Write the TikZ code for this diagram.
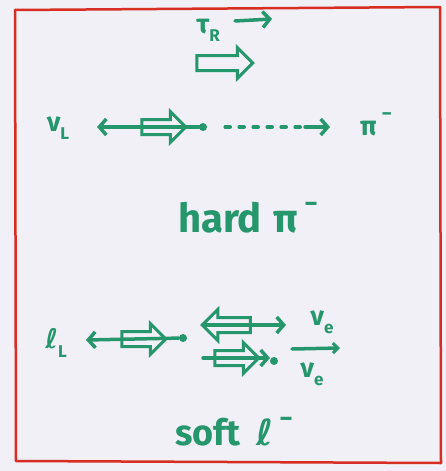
\documentclass[tikz,border=0pt]{standalone}
\usepackage{fontspec}
\setmainfont{Fira Sans}
\newfontfamily\symfont{DejaVu Sans}
\usetikzlibrary{shapes.arrows,arrows.meta}
\definecolor{ink}{RGB}{38,150,108}
\definecolor{frame}{RGB}{215,45,35}
\definecolor{paper}{RGB}{240,240,246}
\newcommand{\lo}[1]{\raisebox{-0.3em}{\fontsize{17}{19}\selectfont #1}}
\newcommand{\hi}[1]{\hspace{5pt}\raisebox{0.55em}{\fontsize{20}{22}\selectfont #1}}
\newcommand{\bighi}[1]{\hspace{6pt}\raisebox{0.5em}{\fontsize{26}{28}\selectfont #1}}
\newcommand{\ellc}{{\symfont\bfseries ℓ}}
\tikzset{
  pen/.style={draw=ink, line width=3.5pt, line cap=round, line join=round},
  hollow/.style={single arrow, draw=ink, line width=3pt, inner xsep=0pt, inner ysep=6pt,
     single arrow head extend=8pt, single arrow head indent=0pt},
  tip/.style={-{Straight Barb[length=7pt,width=16pt,line width=3.5pt]}},
  dotnode/.style={circle, fill=ink, inner sep=0pt, minimum size=8pt},
  lbl/.style={text=ink, inner sep=1pt, font=\fontsize{27}{30}\selectfont\bfseries},
  big/.style={text=ink, font=\fontsize{40}{44}\selectfont\bfseries},
}
\begin{document}
\begin{tikzpicture}[x=1pt,y=-1pt]
\fill[paper] (0,0) rectangle (446,471);
\useasboundingbox (0,0) rectangle (446,471);
\draw[frame, line width=2.5pt, line join=round] (15,10) -- (440,7) -- (441,463) -- (16,461) -- cycle;

% top: tau_R
\node[lbl] (tau) at (208,30) {τ\lo{R}};
\coordinate (taus) at (235,21);
\coordinate (taue) at (272,19);
\draw[pen, tip] (taus) -- (taue);
\node[hollow, minimum height=56pt] (tauspin) at (221,63) {};

% row 1: nu_L <-- . ....> pi^-
\node[lbl] (nuL) at (58,128) {ν\lo{L}};
\coordinate (nuhead) at (97,127);
\node[dotnode] (d1) at (203,127) {};
\node[lbl] (pi1) at (376,124) {π\hi{−}};
\draw[pen, tip] (d1) -- (nuhead);
\node[hollow, minimum height=44pt] (nuspin) at (160,127) {};
\coordinate (dotsend) at (305,127);
\coordinate (pitip) at (330,127);
\draw[pen, dash pattern=on 5pt off 9pt] ([xshift=18pt]d1.east) -- (dotsend);
\draw[pen, tip] (dotsend) -- (pitip);

\node[big] (hard) at (248,218) {hard\hspace{12pt}π\bighi{−}};

% row 2: l_L <-- .  and neutrinos
\node[lbl] (lL) at (56,343) {\ellc\lo{L}};
\coordinate (lhead) at (86,340);
\node[dotnode] (d2) at (183,338) {};
\draw[pen, tip] (d2) -- (lhead);
\node[hollow, minimum height=44pt] (lspin) at (140,339) {};

\node[lbl] (nue) at (322,322) {ν\lo{e}};
\coordinate (a1s) at (203,325);
\coordinate (a1e) at (286,325);
\draw[pen, tip] (a1s) -- (a1e);
\node[hollow, minimum height=48pt, shape border rotate=180] (nuespin) at (230,325) {};

\node[lbl] (nueb) at (312,374) {ν\lo{e}};
\coordinate (bars) at (292,349);
\coordinate (bare) at (340,348);
\draw[pen, -{Straight Barb[length=5pt,width=10pt,line width=3pt]}] (bars) -- (bare);
\coordinate (a2s) at (203,358);
\coordinate (a2e) at (270,358);
\draw[pen, tip] (a2s) -- (a2e);
\node[hollow, minimum height=44pt] (nuebspin) at (233,358) {};
\node[dotnode] (d3) at (274,361) {};

\node[big, font=\fontsize{36}{40}\selectfont\bfseries] (soft) at (234,432) {soft\hspace{16pt}\ellc\bighi{−}};
\end{tikzpicture}
\end{document}
